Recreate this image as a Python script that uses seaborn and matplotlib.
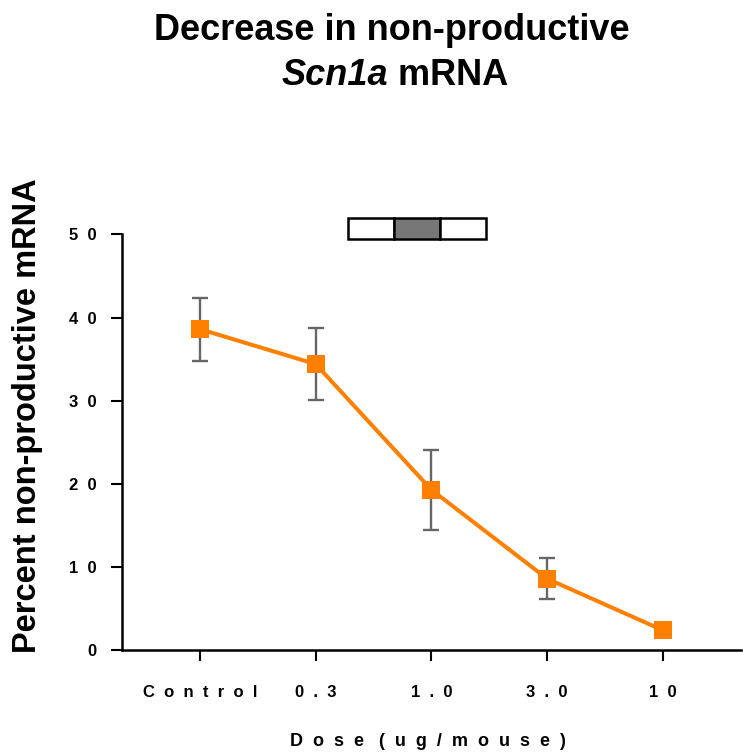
import matplotlib
matplotlib.use("Agg")
import matplotlib.pyplot as plt
from matplotlib.patches import Rectangle
import numpy as np
import pandas as pd
import seaborn as sns

# values
doses = ["Control", "0.3", "1.0", "3.0", "10"]
mean_pct = [38.6, 34.4, 19.3, 8.6, 2.4]
sem_pct = [3.8, 4.3, 4.8, 2.5, 0.4]
y_ticks = [0, 10, 20, 30, 40, 50]


def spaced(s):
    # GraphPad-style letter spacing
    return "  ".join(s)


df = pd.DataFrame({"pos": np.arange(len(doses)), "dose": doses,
                   "mean": mean_pct, "sem": sem_pct})

sns.set_theme(style="ticks")
plt.rcParams["font.family"] = ["Liberation Sans", "DejaVu Sans"]
plt.rcParams.update({
    "text.color": "black",
    "axes.labelcolor": "black",
    "xtick.color": "black",
    "ytick.color": "black",
})

fig = plt.figure(figsize=(7.43, 7.56), dpi=100)
ax = fig.add_axes([0.164, 0.140, 0.833, 0.550])

ax.errorbar(df["pos"], df["mean"], yerr=df["sem"], fmt="none",
            ecolor="#666666", elinewidth=1.7, capsize=5.5, capthick=1.7, zorder=2)
sns.lineplot(data=df, x="pos", y="mean", ax=ax, color="#FF8000",
             linewidth=2.9, marker="s", markersize=13, markeredgewidth=0,
             errorbar=None, zorder=3)

ax.set_xlim(-0.675, 4.675)
ax.set_ylim(0, 50)
ax.set_xticks(df["pos"])
ax.set_xticklabels([spaced(d) for d in doses], fontweight="bold", fontsize=12)
ax.set_yticks(y_ticks)
ax.set_yticklabels([spaced(str(t)) for t in y_ticks], fontweight="bold", fontsize=12)
ax.tick_params(axis="x", length=8, width=1.5, pad=17)
ax.tick_params(axis="y", length=8, width=1.5, pad=10)

for side in ["top", "right"]:
    ax.spines[side].set_visible(False)
for side in ["left", "bottom"]:
    ax.spines[side].set_linewidth(1.8)
    ax.spines[side].set_color("black")

ax.set_xlabel(spaced("Dose(ug/mouse)").replace("e  (", "e   ("),
              fontweight="bold", fontsize=13, va="center")
ax.xaxis.set_label_coords(0.495, -0.22)
ax.set_ylabel("Percent non-productive mRNA", fontweight="bold", fontsize=23.5,
              va="center")
ax.yaxis.set_label_coords(-0.153, 0.565)

# schematic exon box above the curve
cell_w, cell_h = 0.0743, 0.0505
for i, fc in enumerate(["white", "#777777", "white"]):
    ax.add_patch(Rectangle((0.365 + i * cell_w, 0.990), cell_w, cell_h,
                           transform=ax.transAxes, facecolor=fc,
                           edgecolor="black", linewidth=1.8, clip_on=False))

# title: second line mixes italic gene name and bold text
fig.text(0.528, 0.960, "Decrease in non-productive", ha="center", va="center",
         fontsize=26, fontweight="bold")
t1 = fig.text(0.5, 0.900, "Scn1a", ha="left", va="center", fontsize=26,
              fontweight="bold", fontstyle="italic")
t2 = fig.text(0.5, 0.900, " mRNA", ha="left", va="center", fontsize=26,
              fontweight="bold")
fig.canvas.draw()
r = fig.canvas.get_renderer()
w1 = t1.get_window_extent(r).width / fig.bbox.width
w2 = t2.get_window_extent(r).width / fig.bbox.width
x0 = 0.532 - (w1 + w2) / 2
t1.set_x(x0)
t2.set_x(x0 + w1)

fig.savefig("out.png", dpi=100)
